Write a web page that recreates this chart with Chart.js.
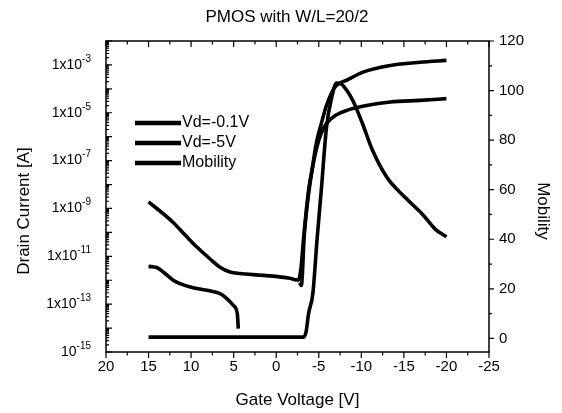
<!DOCTYPE html>
<html>
<head>
<meta charset="utf-8">
<script src="https://cdn.jsdelivr.net/npm/chart.js@4/dist/chart.umd.min.js"></script>
<style>
    body { margin: 0; background: #fff; }
    canvas { display: block; }
</style>
</head>
<body>
<canvas id="pmosChart" width="562" height="413"></canvas>
<script>
// Dòng Id theo Vg (thang log), độ linh động theo Vg (trục phải)
const vgLow  = [15, 14.05, 13.27, 12.1, 11.3, 10.1, 8.17, 6.6, 5.8, 5.04, 4.57, 4.5, 4.46, 1,
                -2.75, -2.95, -3.3, -3.8, -4.3, -4.8, -5.3, -5.9, -7.0, -8.3, -10.6, -13.4, -16.9, -20];
const idLow  = [3.8e-12, 3.4e-12, 2.2e-12, 1.0e-12, 7.2e-13, 5.2e-13, 3.8e-13, 2.75e-13, 1.7e-13, 8.9e-14, 4e-14, 1.8e-14, 9.5e-15, null,
                8e-13, 6e-13, 8e-11, 4e-9, 6e-8, 4e-7, 1.4e-6, 3.5e-6, 7.9e-6, 1.26e-5, 2.0e-5, 2.8e-5, 3.3e-5, 3.9e-5];

const vgHigh = [15, 12.2, 10.5, 9.35, 7.8, 6.6, 5.43, 4.26, 1.5, -1.6, -2.2, -2.6, -2.9, -3.2, -3.8,
                -4.2, -4.7, -5.3, -5.9, -6.9, -8.3, -10.2, -13.4, -16.9, -20];
const idHigh = [1.9e-9, 2.8e-10, 6.5e-11, 2.5e-11, 7.9e-12, 3.5e-12, 2.2e-12, 1.9e-12, 1.6e-12, 1.2e-12, 1.05e-12, 1.0e-12, 3e-12, 5e-11, 5.8e-9,
                4e-8, 5.2e-7, 3.6e-6, 2e-5, 1.2e-4, 2.3e-4, 5e-4, 9.5e-4, 1.3e-3, 1.55e-3];

const vgMob    = [15, -3.2, -3.5, -3.8, -4.3, -4.8, -5.3, -5.9, -6.5, -7.1, -7.7, -8.4, -9.0, -10.1, -11.3, -13, -15.1, -17.2, -18.7, -20];
const mobility = [0.5, 0.5, 2.5, 10, 18, 40, 60, 85, 97, 103, 102.5, 99.5, 96, 87, 76, 65, 57, 50, 44, 41];

const seriesNames = ['Vd=-0.1V', 'Vd=-5V', 'Mobility'];
const xTicks = [20, 15, 10, 5, 0, -5, -10, -15, -20, -25];
const leftTickExps = [-15, -13, -11, -9, -7, -5, -3];
const rightTicks = [0, 20, 40, 60, 80, 100, 120];

const FONT = "'Liberation Sans', Arial, sans-serif";

function toPoints(xs, ys) {
    return xs.map((x, i) => ({ x: x, y: ys[i] }));
}

// Vẽ khung, vạch chia, nhãn trục trái (có số mũ), tiêu đề và chú thích
const decorPlugin = {
    id: 'decor',
    afterDraw(chart) {
        const ctx = chart.ctx;
        const area = chart.chartArea;
        const sx = chart.scales.x, sy = chart.scales.y, sy2 = chart.scales.y2;
        ctx.save();
        ctx.strokeStyle = '#000';
        ctx.fillStyle = '#000';
        ctx.lineWidth = 1.5;
        ctx.strokeRect(area.left, area.top, area.right - area.left, area.bottom - area.top);

        ctx.lineWidth = 1.2;
        ctx.beginPath();
        // trục x: dưới hướng ra ngoài, trên hướng vào trong
        for (let v = -25; v <= 20; v += 2.5) {
            const px = sx.getPixelForValue(v);
            const len = (v % 5 === 0) ? 6 : 3.5;
            ctx.moveTo(px, area.bottom); ctx.lineTo(px, area.bottom + len);
            ctx.moveTo(px, area.top); ctx.lineTo(px, area.top + len);
        }
        // trục log bên trái, vạch hướng vào trong
        for (let e = -15; e <= -2; e++) {
            let py = sy.getPixelForValue(Math.pow(10, e));
            ctx.moveTo(area.left, py); ctx.lineTo(area.left + 6, py);
            if (e < -2) {
                for (let k = 2; k <= 9; k++) {
                    py = sy.getPixelForValue(k * Math.pow(10, e));
                    ctx.moveTo(area.left, py); ctx.lineTo(area.left + 3, py);
                }
            }
        }
        // trục phải, vạch hướng ra ngoài
        for (let v = 0; v <= 120; v += 10) {
            const py = sy2.getPixelForValue(v);
            const len = (v % 20 === 0) ? 5 : 3;
            ctx.moveTo(area.right, py); ctx.lineTo(area.right + len, py);
        }
        ctx.stroke();

        // nhãn trục trái dạng 1x10^n
        const rightEdge = 91;
        ctx.textBaseline = 'middle';
        leftTickExps.forEach(e => {
            const py = sy.getPixelForValue(Math.pow(10, e));
            const main = (e === -15) ? '10' : '1x10';
            const sup = String(e);
            ctx.font = '10px ' + FONT;
            const supW = ctx.measureText(sup).width;
            ctx.textAlign = 'left';
            ctx.fillText(sup, rightEdge - supW, py - 6);
            ctx.font = '14px ' + FONT;
            ctx.textAlign = 'right';
            ctx.fillText(main, rightEdge - supW, py);
        });

        // tiêu đề
        ctx.font = '17px ' + FONT;
        ctx.textAlign = 'center';
        ctx.fillText('PMOS with W/L=20/2', 287, 17);
        ctx.fillText('Gate Voltage [V]', (area.left + area.right) / 2, 400);

        ctx.save();
        ctx.translate(24, 211);
        ctx.rotate(-Math.PI / 2);
        ctx.fillText('Drain Current [A]', 0, 0);
        ctx.restore();

        ctx.save();
        ctx.translate(543, 211);
        ctx.rotate(Math.PI / 2);
        ctx.fillText('Mobility', 0, 0);
        ctx.restore();

        // chú thích
        ctx.font = '16px ' + FONT;
        ctx.textAlign = 'left';
        ctx.lineWidth = 4.5;
        chart.data.datasets.forEach((ds, i) => {
            const y = 123 + 20 * i;
            ctx.beginPath();
            ctx.moveTo(135, y);
            ctx.lineTo(181, y);
            ctx.stroke();
            ctx.fillText(ds.label, 182, y);
        });
        ctx.restore();
    }
};

const lineStyle = {
    showLine: true,
    borderColor: '#000',
    backgroundColor: '#000',
    borderWidth: 3.6,
    pointRadius: 0,
    cubicInterpolationMode: 'monotone',
    spanGaps: false
};

const tickFont = { family: FONT, size: 15 };

new Chart(document.getElementById('pmosChart').getContext('2d'), {
    type: 'scatter',
    data: {
        datasets: [
            Object.assign({ label: seriesNames[0], data: toPoints(vgLow, idLow), yAxisID: 'y' }, lineStyle),
            Object.assign({ label: seriesNames[1], data: toPoints(vgHigh, idHigh), yAxisID: 'y' }, lineStyle),
            Object.assign({ label: seriesNames[2], data: toPoints(vgMob, mobility), yAxisID: 'y2' }, lineStyle)
        ]
    },
    options: {
        responsive: false,
        animation: false,
        layout: { padding: { top: 41 } },
        plugins: {
            legend: { display: false },
            tooltip: { enabled: false },
            title: { display: false }
        },
        scales: {
            x: {
                type: 'linear',
                position: 'bottom',
                reverse: true,
                min: -25,
                max: 20,
                grid: { display: false, drawTicks: false },
                border: { display: false },
                ticks: { color: '#000', font: tickFont, padding: 6, maxRotation: 0, autoSkip: false },
                afterBuildTicks: s => { s.ticks = xTicks.map(v => ({ value: v })); },
                afterFit: s => { s.height = 61; }
            },
            y: {
                type: 'logarithmic',
                position: 'left',
                min: 1e-15,
                max: 1e-2,
                grid: { display: false, drawTicks: false },
                border: { display: false },
                ticks: { display: false },
                afterFit: s => { s.width = 106; }
            },
            y2: {
                type: 'linear',
                position: 'right',
                min: -5.5,
                max: 120,
                grid: { display: false, drawTicks: false },
                border: { display: false },
                ticks: { color: '#000', font: tickFont, padding: 10 },
                afterBuildTicks: s => { s.ticks = rightTicks.map(v => ({ value: v })); },
                afterFit: s => { s.width = 73; }
            }
        }
    },
    plugins: [decorPlugin]
});
</script>
</body>
</html>
